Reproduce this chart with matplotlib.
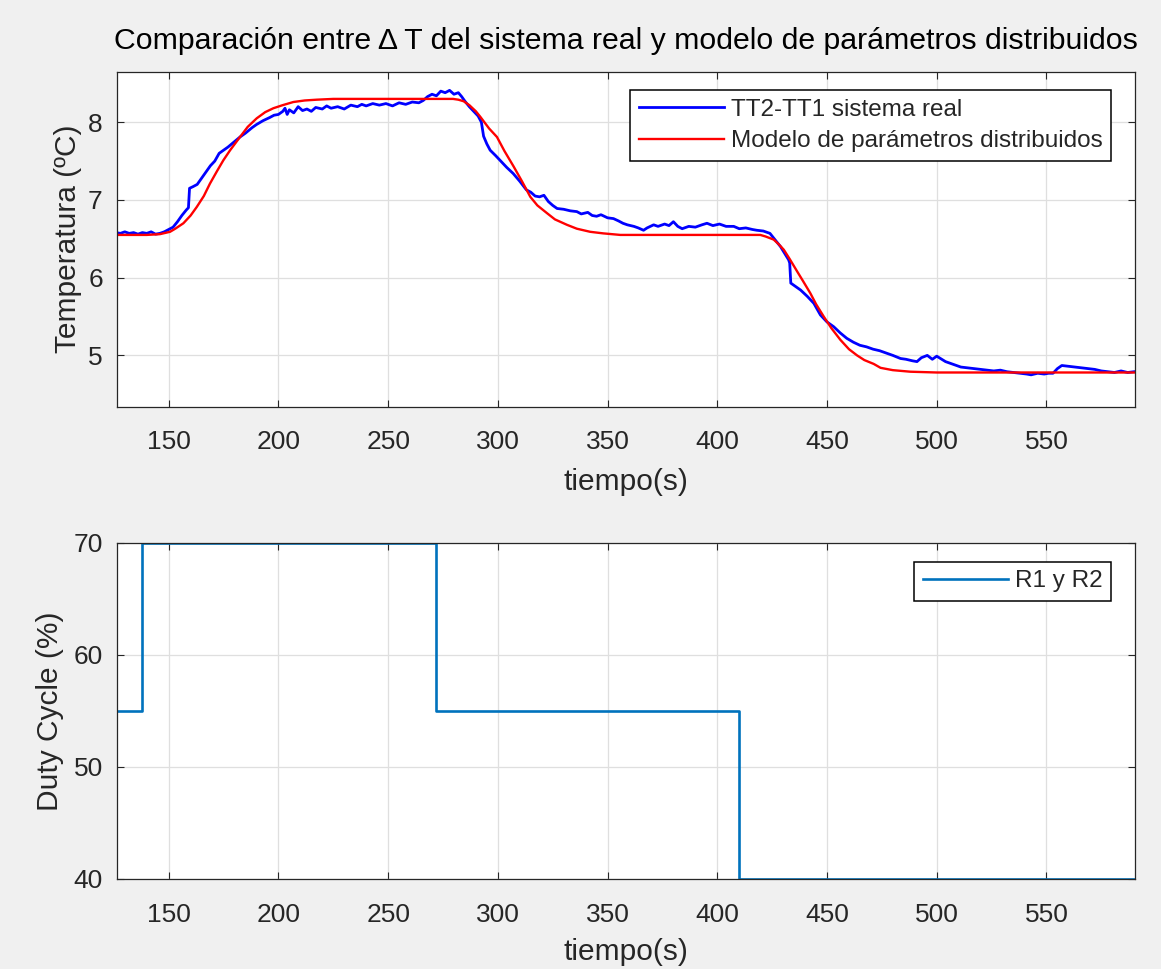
import matplotlib.pyplot as plt

plt.rcParams['font.family'] = ['Liberation Sans', 'DejaVu Sans']

# medido: TT2-TT1 sistema real
t_real = [126, 128, 130, 132, 134, 136, 138, 140, 142, 144, 146, 148, 150, 152, 154, 156, 158, 159,
          159.5, 161, 163, 165, 167, 169, 171, 173, 175, 177, 180, 182.5, 185, 188, 190, 193, 196, 198,
          200, 202, 203, 204, 205, 207, 209, 211, 213, 215, 217, 220, 222, 224, 227, 230, 233, 236,
          238, 240, 243, 246, 249, 252, 255, 258, 261, 264, 266, 268, 270, 272, 274, 276, 278, 280,
          282, 283.5, 285, 287, 289, 291, 292.5, 293.5, 295, 296.5, 299, 301, 304, 307, 310, 313, 315,
          317, 319, 321, 323, 325, 327, 330, 333, 336, 338, 341, 343, 345, 347, 350, 352.7, 355, 357,
          359, 362, 364, 366.4, 368, 371, 373, 376, 378, 380, 382, 384, 387, 390, 393, 395.3, 398,
          401, 404, 407.5, 410, 413, 416, 418, 421, 424, 426, 428.8, 431, 432.5, 433, 433.5, 436, 438,
          441, 444, 447, 450, 453, 456, 459, 462, 465, 468, 471, 474, 477, 480, 483.5, 486, 489, 491,
          493, 495.7, 498, 500, 501.7, 504, 506, 508, 511, 514, 517, 520, 523, 526, 529, 532, 535, 538,
          541, 543, 546, 549, 551, 553, 555, 557, 560, 563, 566, 569, 572, 575, 578, 581, 584, 587, 590]
dT_real = [6.58, 6.57, 6.59, 6.57, 6.58, 6.56, 6.58, 6.57, 6.59, 6.56, 6.57, 6.59, 6.62, 6.65, 6.72,
           6.80, 6.87, 6.90, 7.15, 7.17, 7.20, 7.28, 7.36, 7.44, 7.50, 7.60, 7.64, 7.68, 7.75, 7.81,
           7.86, 7.93, 7.97, 8.02, 8.06, 8.09, 8.10, 8.14, 8.18, 8.10, 8.16, 8.12, 8.20, 8.15, 8.17,
           8.14, 8.19, 8.17, 8.21, 8.18, 8.20, 8.17, 8.22, 8.20, 8.23, 8.21, 8.24, 8.22, 8.24, 8.21,
           8.25, 8.23, 8.26, 8.25, 8.28, 8.33, 8.36, 8.34, 8.40, 8.38, 8.41, 8.36, 8.38, 8.33, 8.27,
           8.20, 8.14, 8.08, 8.00, 7.82, 7.72, 7.64, 7.57, 7.51, 7.42, 7.34, 7.24, 7.13, 7.10, 7.05,
           7.04, 7.06, 6.98, 6.93, 6.89, 6.88, 6.86, 6.85, 6.82, 6.84, 6.80, 6.79, 6.81, 6.77, 6.76,
           6.73, 6.70, 6.68, 6.66, 6.64, 6.61, 6.64, 6.68, 6.66, 6.69, 6.67, 6.72, 6.66, 6.63, 6.66,
           6.65, 6.68, 6.70, 6.67, 6.69, 6.66, 6.66, 6.63, 6.64, 6.62, 6.61, 6.60, 6.57, 6.50, 6.40,
           6.30, 6.23, 6.19, 5.93, 5.88, 5.84, 5.76, 5.67, 5.52, 5.43, 5.37, 5.29, 5.22, 5.17, 5.13,
           5.11, 5.08, 5.06, 5.03, 5.00, 4.96, 4.95, 4.93, 4.92, 4.97, 5.00, 4.95, 4.99, 4.96, 4.92,
           4.90, 4.88, 4.85, 4.84, 4.83, 4.82, 4.81, 4.80, 4.81, 4.79, 4.78, 4.77, 4.76, 4.75, 4.77,
           4.76, 4.77, 4.77, 4.83, 4.87, 4.86, 4.85, 4.84, 4.83, 4.82, 4.80, 4.79, 4.78, 4.80, 4.78,
           4.79]

# modelo de parametros distribuidos
t_mod = [126, 140, 146, 150.6, 153, 156.7, 160, 162.8, 166, 168.8, 172, 174.9, 178, 182.5, 186,
         190.1, 194, 197.7, 202, 206.8, 212, 217.5, 225, 279.6, 282, 284.4, 287, 290, 292, 296,
         299.6, 303, 307.2, 311, 314.8, 318, 322.4, 326, 331.5, 336, 342.1, 348, 355.8, 419.6, 422,
         425.7, 428, 430.3, 433, 436.4, 439, 442.4, 445, 448.5, 452, 456.1, 460, 463.7, 467, 471.3,
         474.4, 480, 488, 500, 590]
dT_mod = [6.55, 6.55, 6.56, 6.59, 6.63, 6.70, 6.80, 6.91, 7.05, 7.21, 7.37, 7.51, 7.64, 7.81, 7.94,
          8.05, 8.13, 8.18, 8.22, 8.26, 8.28, 8.29, 8.30, 8.30, 8.29, 8.27, 8.22, 8.14, 8.07, 7.92,
          7.81, 7.63, 7.43, 7.24, 7.04, 6.93, 6.83, 6.75, 6.68, 6.63, 6.59, 6.57, 6.55, 6.55, 6.53,
          6.49, 6.43, 6.36, 6.24, 6.08, 5.96, 5.80, 5.66, 5.50, 5.35, 5.20, 5.08, 5.00, 4.94, 4.89,
          4.84, 4.81, 4.79, 4.78, 4.78]

# duty cycle R1 y R2
t_duty = [126, 138, 272, 410, 590]
duty = [55, 70, 55, 40, 40]

dark = '#262626'

fig = plt.figure(figsize=(11.61, 9.69), dpi=100, facecolor='#f0f0f0')
ax1 = fig.add_axes([0.1005, 0.5803, 0.877, 0.3457])
ax2 = fig.add_axes([0.1005, 0.0929, 0.877, 0.3470])

ax1.plot(t_real, dT_real, color='#0000ff', lw=2.0, label='TT2-TT1 sistema real')
ax1.plot(t_mod, dT_mod, color='#ff0000', lw=1.7, label='Modelo de parámetros distribuidos')
ax1.set_xlim(126.3, 590.3)
ax1.set_ylim(4.34, 8.65)
ax1.set_yticks([5, 6, 7, 8])
ax1.set_xticks(range(150, 551, 50))
ax1.set_xlabel('tiempo(s)', fontsize=21.5, color=dark, labelpad=10)
ax1.set_ylabel('Temperatura (ºC)', fontsize=21.5, color=dark, labelpad=4)
ax1.set_title('Comparación entre Δ T del sistema real y modelo de parámetros distribuidos',
              fontsize=21.8, color='black', pad=16)

ax2.step(t_duty, duty, where='post', color='#0072bd', lw=1.9, label='R1 y R2')
ax2.set_xlim(126.3, 590.3)
ax2.set_ylim(40, 70)
ax2.set_yticks([40, 50, 60, 70])
ax2.set_xticks(range(150, 551, 50))
ax2.set_xlabel('tiempo(s)', fontsize=21.5, color=dark, labelpad=8)
ax2.set_ylabel('Duty Cycle (%)', fontsize=21.5, color=dark, labelpad=7)

for ax in (ax1, ax2):
    ax.set_facecolor('white')
    ax.grid(True, color='#dfdfdf', lw=0.9)
    ax.set_axisbelow(True)
    ax.tick_params(direction='in', top=True, right=True, length=5, width=0.8,
                   labelsize=19, colors=dark)
    ax.tick_params(axis='y', pad=10)
    ax.tick_params(axis='x', pad=17)
    for s in ax.spines.values():
        s.set_color(dark)
        s.set_linewidth(0.9)

leg1 = ax1.legend(loc='upper right', bbox_to_anchor=(0.977, 0.945), borderaxespad=0,
                  fontsize=17.5, fancybox=False, framealpha=1, edgecolor='black',
                  handlelength=3.5, handletextpad=0.3, labelspacing=0.4, borderpad=0.35)
leg1.get_frame().set_linewidth(1.1)
for txt in leg1.get_texts():
    txt.set_color(dark)

leg2 = ax2.legend(loc='upper right', bbox_to_anchor=(0.977, 0.943), borderaxespad=0,
                  fontsize=17.5, fancybox=False, framealpha=1, edgecolor='black',
                  handlelength=3.5, handletextpad=0.3, borderpad=0.35)
leg2.get_frame().set_linewidth(1.1)
for txt in leg2.get_texts():
    txt.set_color(dark)

fig.savefig('out.png', dpi=100, facecolor=fig.get_facecolor())
